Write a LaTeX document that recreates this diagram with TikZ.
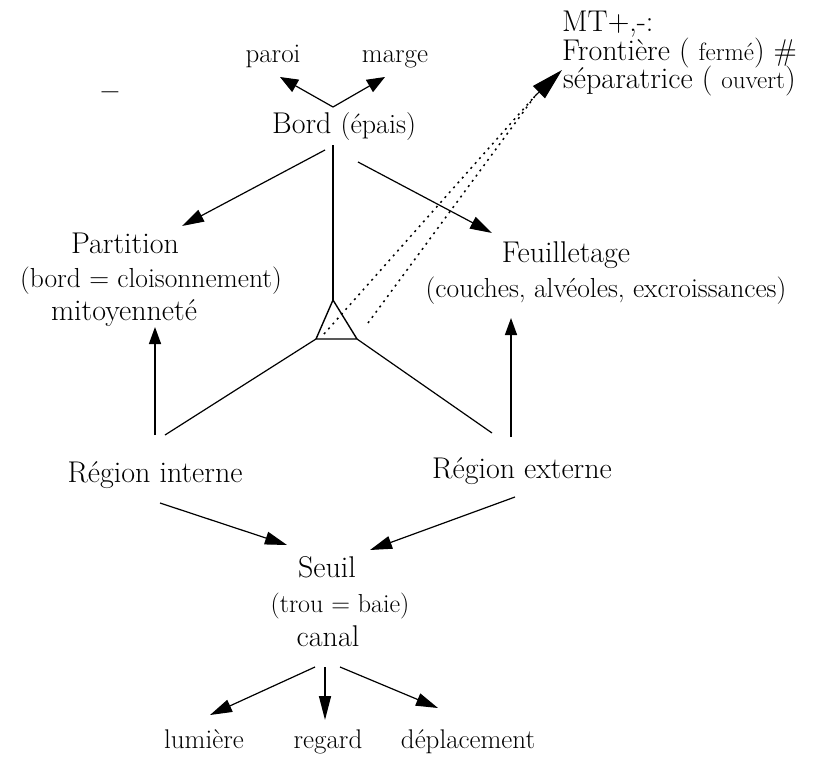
\documentclass[tikz,border=0pt]{standalone}
\usetikzlibrary{arrows.meta}
\newcommand\fsz[1]{\fontsize{#1}{#1}\selectfont}
\begin{document}
\begin{tikzpicture}[x=1pt,y=-1pt,
  lbl/.style={inner sep=0pt,anchor=base},
  big/.style={lbl,font=\fsz{30}},
  mid/.style={lbl,font=\fsz{27.5}},
  sml/.style={lbl,font=\fsz{27}},
  conn/.style={line width=1.2pt},
  arr/.style={conn,-{Triangle[length=22pt,width=13pt]}},
  dots/.style={line width=1.5pt,dash pattern=on 2pt off 4.5pt}]
\useasboundingbox (0,0) rectangle (818,760);
% texts
\node[sml] (paroi) at (273,63) {paroi};
\node[sml] (marge) at (395,63) {marge};
\node[lbl,font=\fsz{30}\bfseries] (dash) at (110,100) {--};
\node[lbl,anchor=base west] (bord) at (272,133) {\fsz{30}Bord {\fsz{28}(épais)}};
\node[big] (part) at (125,253) {Partition};
\node[mid] (partb) at (151,287) {(bord = cloisonnement)};
\node[big] (mito) at (124,320) {mitoyenneté};
\node[big] (feuil) at (566,262) {Feuilletage};
\node[mid] (feuilb) at (606,297) {(couches, alvéoles, excroissances)};
\node[big] (rint) at (155,482) {Région interne};
\node[big] (rext) at (522,478) {Région externe};
\node[big] (seuil) at (327,577) {Seuil};
\node[lbl,font=\fsz{26}] (trou) at (340,612) {(trou = baie)};
\node[big] (canal) at (328,646) {canal};
\node[sml] (lum) at (204,748) {lumière};
\node[sml] (reg) at (328,748) {regard};
\node[sml] (dep) at (468,748) {déplacement};
\node[lbl,anchor=base west,font=\fsz{30}] (mt1) at (562,32) {MT+,-:};
\node[lbl,anchor=base west,font=\fsz{30}] (mt2) at (562,60) {Frontière ( {\fsz{25}fermé}) \#};
\node[lbl,anchor=base west,font=\fsz{30}] (mt3) at (563,88) {séparatrice ( {\fsz{25}ouvert})};
% coordinates
\coordinate (bj) at (333,107);
\coordinate (paroiT) at (280,77);
\coordinate (margeT) at (385,77);
\coordinate (bordL) at (325,150);
\coordinate (partT) at (182,226);
\coordinate (bordR) at (358,162);
\coordinate (feuilT) at (492,233);
\coordinate (bordB) at (333,145);
\coordinate (apex) at (333,300);
\coordinate (tl) at (316,339);
\coordinate (tr) at (357,339);
\coordinate (rintA) at (165,435);
\coordinate (rextA) at (492,433);
\coordinate (rintU) at (155,435);
\coordinate (mitoT) at (155,327);
\coordinate (rextU) at (511,437);
\coordinate (couchT) at (511,318);
\coordinate (rintS) at (160,503);
\coordinate (seuilL) at (287,545);
\coordinate (rextS) at (515,497);
\coordinate (seuilR) at (370,550);
\coordinate (canL) at (315,667);
\coordinate (lumT) at (210,715);
\coordinate (canM) at (325,667);
\coordinate (regT) at (325,720);
\coordinate (canR) at (340,667);
\coordinate (depT) at (438,708);
\coordinate (d1) at (324,334);
\coordinate (d2) at (368,323);
\coordinate (dP) at (535,96);
\coordinate (dT) at (562,70);
% connectors
\draw[conn,-{Triangle[length=18pt,width=14pt]}] (bj) -- (paroiT);
\draw[conn,-{Triangle[length=18pt,width=14pt]}] (bj) -- (margeT);
\draw[arr] (bordL) -- (partT);
\draw[arr] (bordR) -- (feuilT);
\draw[line width=1.7pt] (bordB) -- (apex);
\draw[line width=1.4pt,line join=round] (apex) -- (tl) -- (tr) -- cycle;
\draw[conn] (tl) -- (rintA);
\draw[conn] (tr) -- (rextA);
\draw[line width=1.5pt,-{Triangle[length=17pt,width=12pt]}] (rintU) -- (mitoT);
\draw[line width=1.5pt,-{Triangle[length=17pt,width=12pt]}] (rextU) -- (couchT);
\draw[arr] (rintS) -- (seuilL);
\draw[arr] (rextS) -- (seuilR);
\draw[arr] (canL) -- (lumT);
\draw[line width=1.5pt,-{Triangle[length=24pt,width=12pt]}] (canM) -- (regT);
\draw[arr] (canR) -- (depT);
\draw[dots] (d1) -- (dP);
\draw[dots] (d2) -- (dP);
\draw[conn,-{Triangle[length=32pt,width=17pt]}] (dP) -- (dT);
\end{tikzpicture}
\end{document}
